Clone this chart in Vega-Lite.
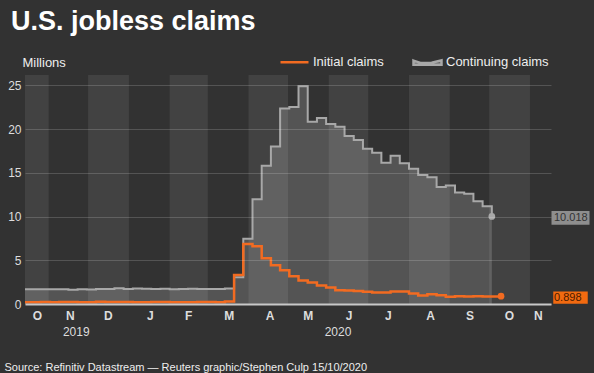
{
  "$schema": "https://vega.github.io/schema/vega-lite/v6.json",
  "width": 526,
  "height": 229,
  "autosize": "none",
  "padding": {"left": 25, "top": 75, "right": 43, "bottom": 69},
  "background": "#323232",
  "title": {
    "text": "U.S. jobless claims",
    "anchor": "start",
    "frame": "group",
    "dx": -14,
    "offset": 10,
    "fontSize": 27,
    "fontWeight": "bold",
    "color": "#ffffff",
    "font": "Liberation Sans"
  },
  "config": {
    "font": "Liberation Sans",
    "view": {"stroke": null},
    "axis": {"labelFont": "Liberation Sans", "titleFont": "Liberation Sans"},
    "axisX": {"labelOverlap": false}
  },
  "datasets": {
    "claims": [
      {"date": "2019-10-12", "initial": 0.214, "continuing": 1.684},
      {"date": "2019-10-19", "initial": 0.212, "continuing": 1.689},
      {"date": "2019-10-26", "initial": 0.218, "continuing": 1.692},
      {"date": "2019-11-02", "initial": 0.211, "continuing": 1.690},
      {"date": "2019-11-09", "initial": 0.225, "continuing": 1.700},
      {"date": "2019-11-16", "initial": 0.227, "continuing": 1.640},
      {"date": "2019-11-23", "initial": 0.213, "continuing": 1.693},
      {"date": "2019-11-30", "initial": 0.203, "continuing": 1.667},
      {"date": "2019-12-07", "initial": 0.252, "continuing": 1.722},
      {"date": "2019-12-14", "initial": 0.234, "continuing": 1.728},
      {"date": "2019-12-21", "initial": 0.222, "continuing": 1.806},
      {"date": "2019-12-28", "initial": 0.220, "continuing": 1.728},
      {"date": "2020-01-04", "initial": 0.214, "continuing": 1.764},
      {"date": "2020-01-11", "initial": 0.207, "continuing": 1.731},
      {"date": "2020-01-18", "initial": 0.223, "continuing": 1.703},
      {"date": "2020-01-25", "initial": 0.215, "continuing": 1.734},
      {"date": "2020-02-01", "initial": 0.201, "continuing": 1.698},
      {"date": "2020-02-08", "initial": 0.205, "continuing": 1.726},
      {"date": "2020-02-15", "initial": 0.211, "continuing": 1.733},
      {"date": "2020-02-22", "initial": 0.219, "continuing": 1.729},
      {"date": "2020-02-29", "initial": 0.216, "continuing": 1.703},
      {"date": "2020-03-07", "initial": 0.211, "continuing": 1.702},
      {"date": "2020-03-14", "initial": 0.282, "continuing": 1.784},
      {"date": "2020-03-21", "initial": 3.307, "continuing": 3.059},
      {"date": "2020-03-28", "initial": 6.867, "continuing": 7.455},
      {"date": "2020-04-04", "initial": 6.615, "continuing": 11.976},
      {"date": "2020-04-11", "initial": 5.237, "continuing": 15.819},
      {"date": "2020-04-18", "initial": 4.442, "continuing": 18.011},
      {"date": "2020-04-25", "initial": 3.867, "continuing": 22.377},
      {"date": "2020-05-02", "initial": 3.176, "continuing": 22.548},
      {"date": "2020-05-09", "initial": 2.687, "continuing": 24.912},
      {"date": "2020-05-16", "initial": 2.446, "continuing": 20.838},
      {"date": "2020-05-23", "initial": 2.126, "continuing": 21.268},
      {"date": "2020-05-30", "initial": 1.901, "continuing": 20.606},
      {"date": "2020-06-06", "initial": 1.566, "continuing": 20.289},
      {"date": "2020-06-13", "initial": 1.540, "continuing": 19.231},
      {"date": "2020-06-20", "initial": 1.482, "continuing": 18.760},
      {"date": "2020-06-27", "initial": 1.413, "continuing": 17.760},
      {"date": "2020-07-04", "initial": 1.310, "continuing": 17.304},
      {"date": "2020-07-11", "initial": 1.308, "continuing": 16.151},
      {"date": "2020-07-18", "initial": 1.422, "continuing": 16.952},
      {"date": "2020-07-25", "initial": 1.435, "continuing": 16.090},
      {"date": "2020-08-01", "initial": 1.191, "continuing": 15.480},
      {"date": "2020-08-08", "initial": 0.971, "continuing": 14.759},
      {"date": "2020-08-15", "initial": 1.104, "continuing": 14.492},
      {"date": "2020-08-22", "initial": 1.011, "continuing": 13.385},
      {"date": "2020-08-29", "initial": 0.833, "continuing": 13.544},
      {"date": "2020-09-05", "initial": 0.893, "continuing": 12.747},
      {"date": "2020-09-12", "initial": 0.866, "continuing": 12.628},
      {"date": "2020-09-19", "initial": 0.873, "continuing": 11.767},
      {"date": "2020-09-26", "initial": 0.849, "continuing": 11.183},
      {"date": "2020-10-03", "initial": 0.845, "continuing": 10.018},
      {"date": "2020-10-10", "initial": 0.898, "continuing": null}
    ],
    "bands": [
      {"start": "2019-10-01", "end": "2019-11-01"},
      {"start": "2019-12-01", "end": "2020-01-01"},
      {"start": "2020-02-01", "end": "2020-03-01"},
      {"start": "2020-04-01", "end": "2020-05-01"},
      {"start": "2020-06-01", "end": "2020-07-01"},
      {"start": "2020-08-01", "end": "2020-09-01"},
      {"start": "2020-10-01", "end": "2020-11-01"}
    ],
    "years": [
      {"year": "2019", "date": "2019-11-22"},
      {"year": "2020", "date": "2020-06-08"}
    ],
    "latest": [
      {"series": "Continuing claims", "date": "2020-10-03", "value": 10.018, "label": "10.018"},
      {"series": "Initial claims", "date": "2020-10-10", "value": 0.898, "label": "0.898"}
    ]
  },
  "layer": [
    {
      "data": {"name": "bands"},
      "mark": {"type": "rect", "color": "#424242", "clip": true},
      "encoding": {
        "x": {"field": "start", "type": "temporal"},
        "x2": {"field": "end"}
      }
    },
    {
      "data": {"name": "claims"},
      "mark": {"type": "area", "interpolate": "step-after", "color": "#ffffff", "opacity": 0.17, "clip": true},
      "encoding": {
        "x": {"field": "date", "type": "temporal"},
        "y": {"field": "continuing", "type": "quantitative"}
      }
    },
    {
      "data": {"name": "claims"},
      "mark": {"type": "line", "interpolate": "step-after", "strokeWidth": 2, "clip": true},
      "encoding": {
        "x": {"field": "date", "type": "temporal"},
        "y": {"field": "continuing", "type": "quantitative"},
        "color": {"datum": "Continuing claims"}
      }
    },
    {
      "data": {"name": "claims"},
      "mark": {"type": "line", "interpolate": "step-after", "strokeWidth": 2.5, "clip": true},
      "encoding": {
        "x": {
          "field": "date",
          "type": "temporal",
          "scale": {"type": "utc", "domain": [{"year": 2019, "month": 10, "date": 14, "utc": true}, {"year": 2020, "month": 11, "date": 17, "utc": true}]},
          "axis": {
            "values": [
              {"year": 2019, "month": 10, "date": 23, "utc": true},
              {"year": 2019, "month": 11, "date": 17, "utc": true},
              {"year": 2019, "month": 12, "date": 16, "utc": true},
              {"year": 2020, "month": 1, "date": 17, "utc": true},
              {"year": 2020, "month": 2, "date": 15, "utc": true},
              {"year": 2020, "month": 3, "date": 17, "utc": true},
              {"year": 2020, "month": 4, "date": 17, "utc": true},
              {"year": 2020, "month": 5, "date": 16, "utc": true},
              {"year": 2020, "month": 6, "date": 16, "utc": true},
              {"year": 2020, "month": 7, "date": 16, "utc": true},
              {"year": 2020, "month": 8, "date": 17, "utc": true},
              {"year": 2020, "month": 9, "date": 16, "utc": true},
              {"year": 2020, "month": 10, "date": 16, "utc": true},
              {"year": 2020, "month": 11, "date": 7, "utc": true}
            ],
            "labelExpr": "['J','F','M','A','M','J','J','A','S','O','N','D'][utcmonth(datum.value)]",
            "labelOverlap": false,
            "labelFontSize": 12,
            "labelFontWeight": "bold",
            "labelColor": "#dddddd",
            "labelPadding": 6,
            "ticks": false,
            "grid": false,
            "domainColor": "#c8c8c8",
            "domainWidth": 2,
            "zindex": 1,
            "title": "Source: Refinitiv Datastream — Reuters graphic/Stephen Culp 15/10/2020",
            "titleFontSize": 11,
            "titleFontWeight": "normal",
            "titleColor": "#eeeeee",
            "titleAlign": "left",
            "titleBaseline": "alphabetic",
            "titleX": -21,
            "titleY": 66
          }
        },
        "y": {
          "field": "initial",
          "type": "quantitative",
          "scale": {"domain": [0, 26.2], "nice": false},
          "axis": {
            "values": [0, 5, 10, 15, 20, 25],
            "labelFontSize": 12,
            "labelColor": "#dddddd",
            "labelPadding": 4,
            "ticks": false,
            "domain": false,
            "grid": true,
            "gridColor": "#ffffff",
            "gridOpacity": 0.17,
            "gridWidth": 1,
            "zindex": 1,
            "title": "Millions",
            "titleAngle": 0,
            "titleAlign": "left",
            "titleBaseline": "middle",
            "titleX": -3,
            "titleY": -13,
            "titleFontSize": 13,
            "titleFontWeight": "normal",
            "titleColor": "#eeeeee"
          }
        },
        "color": {
          "datum": "Initial claims",
          "scale": {"domain": ["Initial claims", "Continuing claims"], "range": ["#f26b21", "#a8a8a8"]},
          "legend": {
            "title": null,
            "orient": "none",
            "direction": "horizontal",
            "legendX": 254,
            "legendY": -29,
            "symbolType": "stroke",
            "symbolSize": 784,
            "symbolStrokeWidth": 2.5,
            "labelFontSize": 13,
            "labelColor": "#eeeeee",
            "labelOffset": 3,
            "columnPadding": 24,
            "encode": {
              "symbols": {
                "update": {
                  "size": {"value": 784},
                  "shape": {"signal": "datum.value === 'Continuing claims' ? 'M-1,-0.08L-0.45,0.1L0.3,0.08L1,-0.1L1,0.22L-1,0.22Z' : 'stroke'"},
                  "fill": {"signal": "datum.value === 'Continuing claims' ? '#666666' : 'transparent'"}
                }
              }
            }
          }
        }
      }
    },
    {
      "data": {"name": "years"},
      "mark": {"type": "text", "fontSize": 12, "color": "#dddddd", "baseline": "middle", "align": "center"},
      "encoding": {
        "x": {"field": "date", "type": "temporal"},
        "y": {"datum": -3.25},
        "text": {"field": "year"}
      }
    },
    {
      "data": {"name": "latest"},
      "mark": {"type": "point", "filled": true, "opacity": 1, "size": 45},
      "encoding": {
        "x": {"field": "date", "type": "temporal"},
        "y": {"field": "value", "type": "quantitative"},
        "color": {"condition": {"test": "datum.series === 'Initial claims'", "value": "#f26b21"}, "value": "#a8a8a8"}
      }
    },
    {
      "data": {"name": "latest"},
      "mark": {"type": "point", "filled": true, "opacity": 1, "shape": "M-1,-0.36L1,-0.36L1,0.36L-1,0.36Z", "yOffset": 1.5},
      "encoding": {
        "x": {"value": "width"},
        "y": {"field": "value", "type": "quantitative"},
        "xOffset": {"condition": {"test": "datum.series === 'Initial claims'", "value": 17.5}, "value": 19.5},
        "size": {"condition": {"test": "datum.series === 'Initial claims'", "value": 1190}, "value": 1444},
        "color": {"condition": {"test": "datum.series === 'Initial claims'", "value": "#f26a10"}, "value": "#8e8e8e"}
      }
    },
    {
      "data": {"name": "latest"},
      "mark": {"type": "text", "align": "left", "baseline": "middle", "fontSize": 11, "xOffset": 3, "yOffset": 1.5},
      "encoding": {
        "x": {"value": "width"},
        "y": {"field": "value", "type": "quantitative"},
        "text": {"field": "label"},
        "color": {"condition": {"test": "datum.series === 'Initial claims'", "value": "#4a1a00"}, "value": "#333333"}
      }
    }
  ]
}
